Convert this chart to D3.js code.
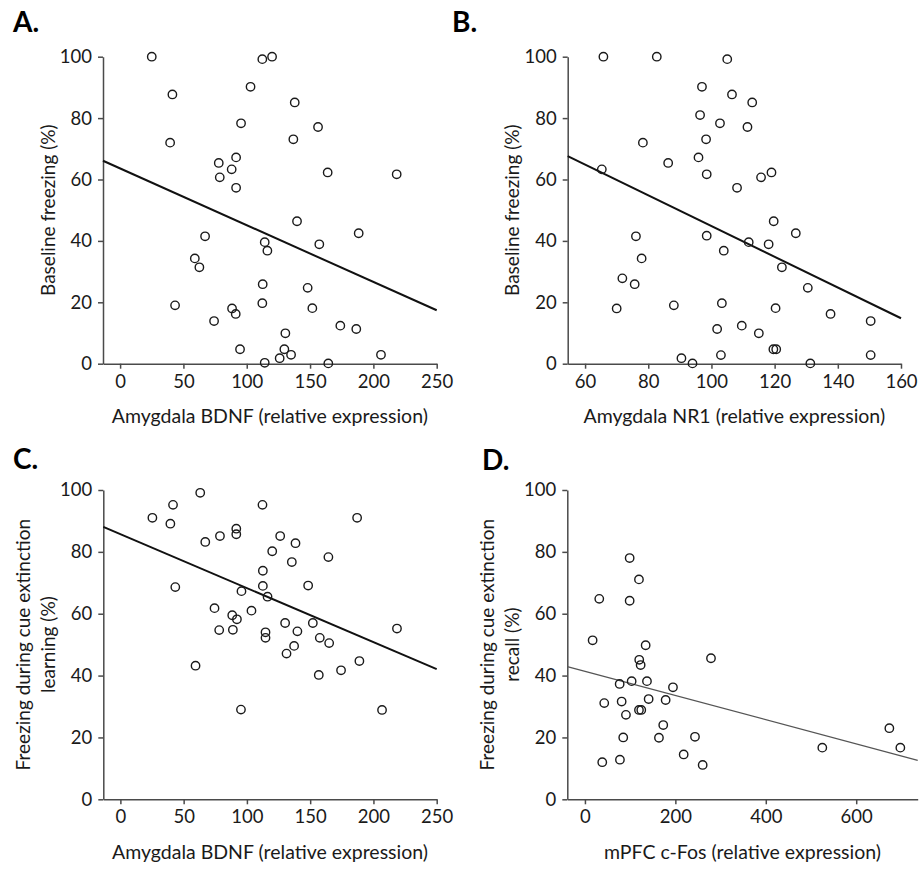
<!DOCTYPE html>
<html lang="en">
<head>
<meta charset="utf-8">
<title>Freezing vs expression</title>
<script src="https://cdn.jsdelivr.net/npm/d3@7"></script>
<style>
  body { margin: 0; background: #fff; }
  text { font-family: Lato, "Open Sans", sans-serif; fill: #1a1a1a; }
</style>
</head>
<body>
<script>
// panel A: amygdala BDNF vs baseline freezing
var aX = [25, 112.3, 120, 103, 41.3, 95.5, 39.5, 91.6, 77.9, 88.1, 78.7, 91.6, 67.1, 114.2, 116.3,
          59, 62.6, 112.6, 112.3, 43.4, 88.4, 91.3, 74.2, 94.7, 114.2, 126, 137.9, 156.3, 136.8,
          163.9, 218.4, 139.7, 188.4, 157.3, 148.1, 151.8, 173.9, 186.5, 130.5, 129.7, 135, 206, 164.4];
var aY = [100, 99.2, 100, 90.2, 87.7, 78.3, 72, 67.2, 65.4, 63.3, 60.7, 57.3, 41.5, 39.6, 36.8,
          34.3, 31.4, 25.9, 19.7, 19, 18, 16.2, 13.9, 4.7, 0.3, 1.8, 85.1, 77.1, 73.1,
          62.3, 61.7, 46.4, 42.5, 38.9, 24.7, 18.1, 12.4, 11.3, 9.9, 4.7, 2.9, 2.9, 0.1];
var aFitX = [-13.5, 250];
var aFitY = [66.1, 17.4];

// panel B: amygdala NR1 vs baseline freezing
var bX = [65.8, 82.7, 97, 96.4, 78.3, 98.3, 95.9, 86.3, 65.3, 98.5, 76.1, 98.5, 77.9, 71.8, 75.7,
          70, 88.1, 90.5, 94, 102.7, 105, 106.5, 112.9, 111.4, 108.1, 115.7, 119, 119.7, 126.7,
          111.8, 118.1, 103.9, 122.3, 130.5, 103.3, 120.3, 137.7, 150.4, 101.8, 109.6, 115,
          119.6, 120.5, 103, 150.4, 131.3];
var bY = [100, 100, 90.2, 81, 72, 73.1, 67.2, 65.4, 63.3, 61.7, 41.5, 41.7, 34.3, 27.8, 25.9,
          18, 19, 1.8, 0.1, 78.3, 99.2, 87.7, 85.1, 77.1, 57.3, 60.7, 62.3, 46.4, 42.5,
          39.6, 38.9, 36.8, 31.4, 24.7, 19.7, 18.1, 16.2, 13.9, 11.3, 12.4, 9.9,
          4.7, 4.7, 2.8, 2.8, 0.1];
var bFitX = [54.5, 160];
var bFitY = [67.6, 14.8];

// panel C: amygdala BDNF vs freezing during extinction learning
var cX = [63.1, 41.6, 112.3, 25.3, 39.5, 91.6, 91.6, 78.7, 67.1, 126.3, 120, 112.6, 112.6, 43.4,
          95.7, 116.3, 74.4, 103.6, 88.4, 92.1, 78.1, 88.9, 114.7, 114.7, 59.4, 95.3, 187.1,
          138.4, 164.4, 135.5, 148.4, 130.2, 152.1, 218.6, 139.9, 157.6, 165, 137.3, 131.3,
          188.9, 174.4, 156.8, 206.8];
var cY = [99.1, 95.2, 95.2, 91, 89.1, 87.5, 85.7, 85.1, 83.2, 85.1, 80.2, 73.9, 69, 68.6,
          67.3, 65.5, 61.8, 61, 59.5, 58.2, 54.7, 54.8, 54, 52.2, 43.2, 29, 91,
          82.8, 78.3, 76.7, 69.1, 57, 57, 55.2, 54.3, 52.2, 50.5, 49.6, 47.1,
          44.7, 41.7, 40.2, 28.9];
var cFitX = [-13.5, 250];
var cFitY = [88.1, 42.1];

// panel D: mPFC c-Fos vs freezing during extinction recall
var dX = [98.9, 119.5, 31.7, 98.9, 17, 134.3, 278.8, 120.1, 123.2, 103.3, 137.2, 76.8, 194.7,
          140.9, 81.2, 178.5, 42.7, 119.5, 124.6, 90.7, 173.2, 84.7, 163.7, 243.4, 218.4,
          77.4, 38.3, 260.4, 673.3, 525, 697.6];
var dY = [78, 71.1, 64.8, 64.2, 51.4, 49.8, 45.6, 45.1, 43.4, 38.2, 38.2, 37.3, 36.2,
          32.4, 31.6, 32.1, 31.1, 28.9, 28.9, 27.3, 24, 20, 19.9, 20.2, 14.5,
          12.8, 12, 11.1, 23, 16.7, 16.7];
var dFitX = [-39, 736];
var dFitY = [42.9, 12.6];

var yTicks = [0, 20, 40, 60, 80, 100];
var bdnfTicks = [0, 50, 100, 150, 200, 250];
var nr1Ticks = [60, 80, 100, 120, 140, 160];
var cfosTicks = [0, 200, 400, 600];

var W = 919, H = 869;
var svg = d3.select('body').append('svg').attr('width', W).attr('height', H);

var panels = [
  {label: 'A.', lx: 13, ly: 32, xs: aX, ys: aY, fx: aFitX, fy: aFitY, xd: [-13.5, 250], xt: bdnfTicks,
   left: 103, right: 436.7, top: 56.7, bottom: 363.7,
   xTitle: 'Amygdala BDNF (relative expression)', yTitle: ['Baseline freezing (%)'], fit: 'bold'},
  {label: 'B.', lx: 452, ly: 32, xs: bX, ys: bY, fx: bFitX, fy: bFitY, xd: [54.5, 160], xt: nr1Ticks,
   left: 567.7, right: 901, top: 56.7, bottom: 363.7,
   xTitle: 'Amygdala NR1 (relative expression)', yTitle: ['Baseline freezing (%)'], fit: 'bold'},
  {label: 'C.', lx: 13, ly: 469, xs: cX, ys: cY, fx: cFitX, fy: cFitY, xd: [-13.5, 250], xt: bdnfTicks,
   left: 103.3, right: 436.7, top: 490, bottom: 799.3,
   xTitle: 'Amygdala BDNF (relative expression)', yTitle: ['Freezing during cue extinction', 'learning (%)'], fit: 'bold'},
  {label: 'D.', lx: 482, ly: 470, xs: dX, ys: dY, fx: dFitX, fy: dFitY, xd: [-39, 736], xt: cfosTicks,
   left: 567.3, right: 917.7, top: 490, bottom: 799.3,
   xTitle: 'mPFC c-Fos (relative expression)', yTitle: ['Freezing during cue extinction', 'recall (%)'], fit: 'thin'}
];

panels.forEach(function (p) {
  var x = d3.scaleLinear().domain(p.xd).range([p.left, p.right]);
  var y = d3.scaleLinear().domain([0, 100]).range([p.bottom, p.top]);
  var g = svg.append('g');

  g.append('text').attr('x', p.lx).attr('y', p.ly)
    .style('font-weight', 'bold').style('font-size', '28px').style('fill', '#000')
    .text(p.label);

  // axes
  var yAxis = g.append('g').attr('transform', 'translate(' + p.left + ',0)')
    .call(d3.axisLeft(y).tickValues(yTicks).tickSize(5).tickSizeOuter(0).tickPadding(6));
  var xAxis = g.append('g').attr('transform', 'translate(0,' + p.bottom + ')')
    .call(d3.axisBottom(x).tickValues(p.xt).tickSize(5).tickSizeOuter(0).tickPadding(6));
  [yAxis, xAxis].forEach(function (ax) {
    ax.selectAll('path, line').attr('stroke', '#4a4a4a').attr('stroke-width', 1.5);
    ax.selectAll('text').style('font-size', '18.5px').style('font-family', 'Lato, sans-serif')
      .attr('fill', '#1a1a1a');
  });

  // regression line
  var line = d3.line().x(function (d) { return x(d[0]); }).y(function (d) { return y(d[1]); });
  g.append('path')
    .datum(d3.zip(p.fx, p.fy))
    .attr('d', line)
    .attr('fill', 'none')
    .attr('stroke', p.fit === 'thin' ? '#555' : '#111')
    .attr('stroke-width', p.fit === 'thin' ? 1.2 : 2);

  // points
  g.selectAll('circle.pt')
    .data(d3.zip(p.xs, p.ys))
    .enter().append('circle')
    .attr('class', 'pt')
    .attr('cx', function (d) { return x(d[0]); })
    .attr('cy', function (d) { return y(d[1]); })
    .attr('r', 4.2)
    .attr('fill', 'none')
    .attr('stroke', '#1a1a1a')
    .attr('stroke-width', 1.4);

  // titles
  g.append('text')
    .attr('x', (p.left + p.right) / 2).attr('y', p.bottom + 59.5)
    .attr('text-anchor', 'middle').style('font-size', '19.5px')
    .text(p.xTitle);

  var cy = (p.top + p.bottom) / 2;
  var n = p.yTitle.length;
  p.yTitle.forEach(function (t, i) {
    var cx = p.left - 48.5 - (n - 1 - i) * 25;
    g.append('text')
      .attr('transform', 'translate(' + cx + ',' + cy + ') rotate(-90)')
      .attr('text-anchor', 'middle').style('font-size', '19px')
      .text(t);
  });
});
</script>
</body>
</html>
